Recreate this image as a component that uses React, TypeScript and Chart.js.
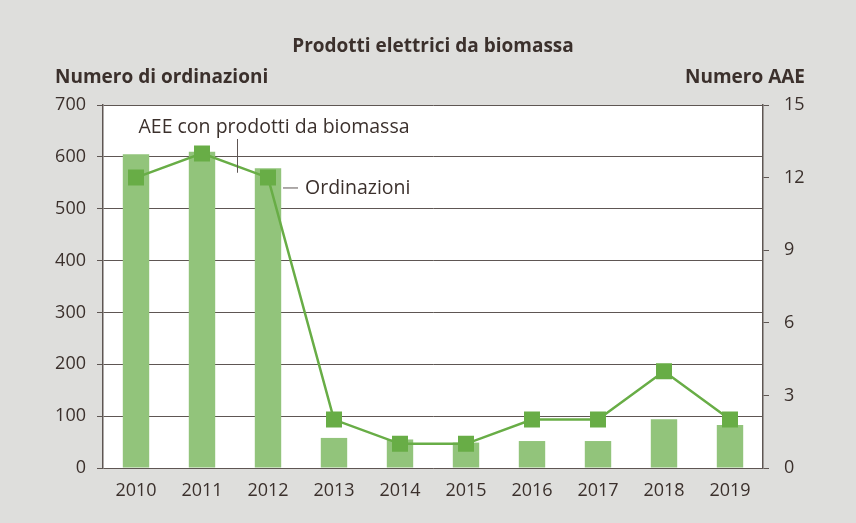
import React, { useEffect, useRef } from "react";
import { Chart, registerables } from "chart.js";

Chart.register(...registerables);

const years = ["2010", "2011", "2012", "2013", "2014", "2015", "2016", "2017", "2018", "2019"];
const ordinazioni = [605, 610, 578, 58, 55, 49, 52, 52, 94, 83];
const aee = [12, 13, 12, 2, 1, 1, 2, 2, 4, 2];
const leftTicks = [0, 100, 200, 300, 400, 500, 600, 700];
const rightTicks = [0, 3, 6, 9, 12, 15];

const chartTitle = "Prodotti elettrici da biomassa";
const leftTitle = "Numero di ordinazioni";
const rightTitle = "Numero AAE";
const lineLabel = "AEE con prodotti da biomassa";
const barLabel = "Ordinazioni";

const FONT = "'Open Sans', sans-serif";
const TEXT = "#3b302c";
const GRID = "#5e5653";
const BG = "#dededc";

export default function App() {
  const ref = useRef<HTMLCanvasElement | null>(null);
  useEffect(() => {
    document.body.style.margin = "0";
    const canvas = ref.current!;
    const deco = {
      id: "deco",
      beforeDraw(chart: any) {
        const { ctx, chartArea } = chart;
        ctx.save();
        ctx.fillStyle = BG;
        ctx.fillRect(0, 0, chart.width, chart.height);
        ctx.fillStyle = "#ffffff";
        ctx.fillRect(chartArea.left, chartArea.top, chartArea.right - chartArea.left, chartArea.bottom - chartArea.top);
        ctx.restore();
      },
      afterDraw(chart: any) {
        const { ctx } = chart;
        const xs = chart.scales.x;
        const yl = chart.scales.y;
        const yr = chart.scales.y1;
        ctx.save();
        ctx.fillStyle = TEXT;
        ctx.textBaseline = "alphabetic";
        ctx.font = `bold 19px ${FONT}`;
        ctx.textAlign = "center";
        ctx.fillText(chartTitle, 433, 52);
        ctx.textAlign = "left";
        ctx.fillText(leftTitle, 55, 83);
        ctx.textAlign = "right";
        ctx.fillText(rightTitle, 805, 83);

        // annotations
        ctx.font = `19.5px ${FONT}`;
        ctx.textAlign = "center";
        const x1 = xs.getPixelForValue(1);
        const x2 = xs.getPixelForValue(2);
        const mid = (x1 + x2) / 2;
        ctx.fillText(lineLabel, 274, 133);
        ctx.strokeStyle = GRID;
        ctx.lineWidth = 1;
        ctx.beginPath();
        ctx.moveTo(mid + 2.5, 139);
        ctx.lineTo(mid + 2.5, yr.getPixelForValue(12.2));
        ctx.stroke();

        const yb = yl.getPixelForValue(540);
        ctx.beginPath();
        ctx.moveTo(x2 + 15, yb);
        ctx.lineTo(x2 + 30, yb);
        ctx.stroke();
        ctx.textAlign = "left";
        ctx.textBaseline = "middle";
        ctx.fillText(barLabel, x2 + 37, yb);
        ctx.restore();
      },
    };

    const chart = new Chart(canvas, {
      type: "bar",
      data: {
        labels: years,
        datasets: [
          {
            type: "line",
            label: lineLabel,
            data: aee,
            yAxisID: "y1",
            borderColor: "#68ad46",
            backgroundColor: "#68ad46",
            borderWidth: 2.5,
            pointStyle: "rect",
            pointRadius: 11.3,
            pointBorderWidth: 0,
            tension: 0,
            order: 0,
          } as any,
          {
            type: "bar",
            label: barLabel,
            data: ordinazioni,
            yAxisID: "y",
            backgroundColor: "#92c47b",
            borderWidth: 0,
            barPercentage: 0.4,
            categoryPercentage: 1,
            order: 1,
          },
        ],
      },
      options: {
        responsive: false,
        animation: false,
        layout: { padding: { top: 105, left: 0, right: 0, bottom: 0 } },
        plugins: { legend: { display: false }, tooltip: { enabled: false }, title: { display: false } },
        scales: {
          x: {
            grid: { display: false, drawTicks: false },
            border: { display: false },
            ticks: { color: TEXT, font: { family: FONT, size: 18 }, padding: 12 },
            afterFit: (s: any) => { s.height = 523 - 468; },
          },
          y: {
            position: "left",
            min: 0,
            max: 700,
            afterBuildTicks: (s: any) => { s.ticks = leftTicks.map((v) => ({ value: v })); },
            grid: { color: GRID, lineWidth: 1, tickLength: 6, drawTicks: true },
            border: { display: true, color: GRID, width: 1.5 },
            ticks: { color: TEXT, font: { family: FONT, size: 18 }, padding: 11 },
            afterFit: (s: any) => { s.width = 103; },
          },
          y1: {
            position: "right",
            min: 0,
            max: 15,
            afterBuildTicks: (s: any) => { s.ticks = rightTicks.map((v) => ({ value: v })); },
            grid: { drawOnChartArea: false, color: GRID, tickLength: 6 },
            border: { display: true, color: GRID, width: 1.5 },
            ticks: { color: TEXT, font: { family: FONT, size: 18 }, padding: 15 },
            afterFit: (s: any) => { s.width = 856 - 763; },
          },
        },
      },
      plugins: [deco],
    });
    return () => chart.destroy();
  }, []);
  return (
    <div style={{ width: 856, height: 523 }}>
      <canvas ref={ref} width={856} height={523} style={{ display: "block" }} />
    </div>
  );
}
